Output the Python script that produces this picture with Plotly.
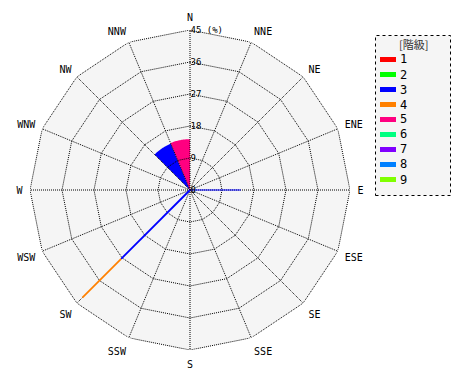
import plotly.graph_objects as go

directions = ["N", "NNE", "NE", "ENE", "E", "ESE", "SE", "SSE",
              "S", "SSW", "SW", "WSW", "W", "WNW", "NW", "NNW"]
dir_angles = [i * 22.5 for i in range(16)]

radial_ticks = [0, 9, 18, 27, 36, 45]
radial_text = ["0", "9", "18", "27", "36", "45 (%)"]

class_names = ["1", "2", "3", "4", "5", "6", "7", "8", "9"]
class_colors = ["#ff0000", "#00ff00", "#0000ff", "#ff8000", "#ff0080",
                "#00ff80", "#8000ff", "#0080ff", "#80ff00"]

# wedge sectors (class, start angle, end angle, value %)
wedge_class = ["3", "5"]
wedge_start = [315.0, 337.5]
wedge_end = [337.5, 360.0]
wedge_r = [14.1, 14.3]

# thin ray segments (class, direction angle, start %, end %)
ray_class = ["3", "3", "4"]
ray_theta = [90, 225, 225]
ray_start = [0, 0, 27.4]
ray_end = [14.3, 27.4, 42.8]

legend_title = "[階級]"

rmax = radial_ticks[-1]
col = dict(zip(class_names, class_colors))
DOT = "1px,1px"

fig = go.Figure()

# polygon background
fig.add_trace(go.Scatterpolar(r=[rmax] * 17, theta=dir_angles + [dir_angles[0]],
                              mode="lines", fill="toself", fillcolor="#f5f5f5",
                              line=dict(width=0, color="#f5f5f5"),
                              showlegend=False, hoverinfo="skip"))

# wedges as filled sectors
for c, t0, t1, r in zip(wedge_class, wedge_start, wedge_end, wedge_r):
    n = 24
    arc_t = [t0 + (t1 - t0) * k / n for k in range(n + 1)]
    fig.add_trace(go.Scatterpolar(r=[0] + [r] * (n + 1) + [0], theta=[t0] + arc_t + [t1],
                                  mode="lines", fill="toself", fillcolor=col[c],
                                  line=dict(width=0, color=col[c]),
                                  showlegend=False, hoverinfo="skip"))

# spokes
sp_r, sp_t = [], []
for a in dir_angles:
    sp_r += [0, rmax, None]
    sp_t += [a, a, None]
fig.add_trace(go.Scatterpolar(r=sp_r, theta=sp_t, mode="lines",
                              line=dict(color="black", width=1, dash=DOT),
                              showlegend=False, hoverinfo="skip"))
# polygon rings
for rv in radial_ticks[1:]:
    fig.add_trace(go.Scatterpolar(r=[rv] * 17, theta=dir_angles + [dir_angles[0]],
                                  mode="lines",
                                  line=dict(color="black", width=1, dash=DOT),
                                  showlegend=False, hoverinfo="skip"))

for c, th, r0, r1 in zip(ray_class, ray_theta, ray_start, ray_end):
    fig.add_trace(go.Scatterpolar(r=[r0, r1], theta=[th, th], mode="lines",
                                  line=dict(color=col[c], width=1 if th == 90 else 1.8),
                                  showlegend=False, hoverinfo="skip"))

font_fam = "DejaVu Sans Mono"

fig.update_layout(
    width=470, height=380,
    margin=dict(l=0, r=0, t=0, b=0),
    paper_bgcolor="white",
    showlegend=False,
    polar=dict(
        domain=dict(x=[30 / 470, 350 / 470], y=[30 / 380, 350 / 380]),
        bgcolor="white",
        radialaxis=dict(range=[0, rmax], tickvals=radial_ticks, ticktext=radial_text,
                        angle=90, tickangle=90, side="clockwise",
                        showline=False, ticks="", showgrid=False,
                        tickfont=dict(family=font_fam, size=9, color="black")),
        angularaxis=dict(direction="clockwise", rotation=90,
                         tickmode="array", tickvals=dir_angles, ticktext=directions,
                         showline=False, ticks="outside", ticklen=5,
                         tickcolor="rgba(0,0,0,0)", showgrid=False,
                         tickfont=dict(family=font_fam, size=10, color="black")),
    ),
)


def px(x):
    return x / 470


def py(y):
    return 1 - y / 380


fig.add_shape(type="rect", xref="paper", yref="paper",
              x0=px(375.5), x1=px(450.5), y0=py(195.5), y1=py(35.5),
              line=dict(color="black", width=1, dash="dot"), fillcolor="#f5f5f5")
fig.add_annotation(x=px(413), y=py(44), xref="paper", yref="paper", text=legend_title,
                   xanchor="center", yanchor="middle", showarrow=False,
                   font=dict(family="Noto Sans CJK JP", size=11, color="#333333"))
for i, (name, color) in enumerate(zip(class_names, class_colors)):
    yc = 59.5 + 15 * i
    fig.add_shape(type="rect", xref="paper", yref="paper",
                  x0=px(380), x1=px(396), y0=py(yc + 2.5), y1=py(yc - 2.5),
                  line=dict(width=0), fillcolor=color)
    fig.add_annotation(x=px(398), y=py(yc), xref="paper", yref="paper", text=name,
                       xanchor="left", yanchor="middle", showarrow=False,
                       font=dict(family=font_fam, size=12, color="black"))

fig.write_html("out.html")
